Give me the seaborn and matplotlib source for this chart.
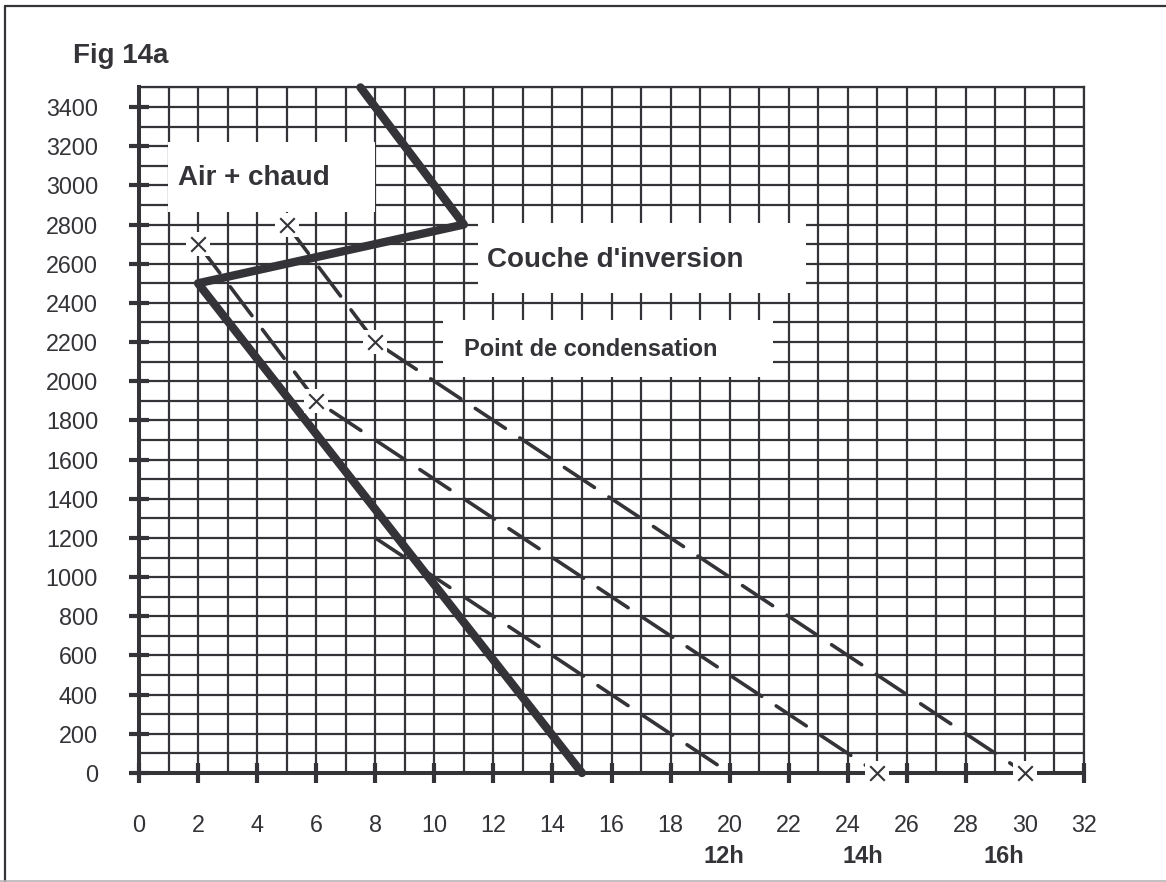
import numpy as np
import pandas as pd
import matplotlib.pyplot as plt
import seaborn as sns
from matplotlib.ticker import MultipleLocator
from matplotlib.patches import Rectangle
from matplotlib.lines import Line2D

# temperature profile (thick line)
env_temp = [7.5, 11, 2, 15]
env_alt = [3500, 2800, 2500, 0]

# rising parcels (dashed lines)
parcel_a_temp = [2, 6, 25]
parcel_a_alt = [2700, 1900, 0]
parcel_b_temp = [5, 8, 30]
parcel_b_alt = [2800, 2200, 0]
parcel_c_temp = [8, 20]
parcel_c_alt = [1200, 0]

# points marked with a cross
cross_temp = [2, 5, 6, 8, 25, 30]
cross_alt = [2700, 2800, 1900, 2200, 0, 0]

x_ticks = list(range(0, 33, 2))
y_ticks = list(range(0, 3401, 200))
hour_labels = ['12h', '14h', '16h']
hour_pos = [19.8, 24.5, 29.3]

ink = '#333338'

sns.set_style('white')
plt.rcParams['font.family'] = ['Liberation Sans', 'DejaVu Sans']

fig = plt.figure(figsize=(11.66, 8.82), dpi=100)
ax = fig.add_axes([0.1192, 0.1236, 0.8105, 0.7773])
ax.set_axisbelow(True)

# thick profile
env = pd.DataFrame({'temp': env_temp, 'alt': env_alt})
sns.lineplot(data=env, x='temp', y='alt', sort=False, estimator=None, color=ink,
             lw=6.0, solid_capstyle='round', solid_joinstyle='round',
             zorder=3, clip_on=False, ax=ax)

# dashed parcels
for t, a in [(parcel_a_temp, parcel_a_alt), (parcel_b_temp, parcel_b_alt),
             (parcel_c_temp, parcel_c_alt)]:
    df = pd.DataFrame({'temp': t, 'alt': a})
    sns.lineplot(data=df, x='temp', y='alt', sort=False, estimator=None, color=ink,
                 lw=2.6, linestyle=(0, (10, 4.8)), dash_capstyle='round',
                 zorder=3, ax=ax)

# crosses with a white halo
crosses = pd.DataFrame({'temp': cross_temp, 'alt': cross_alt})
sns.scatterplot(data=crosses, x='temp', y='alt', marker='s', s=300, color='white',
                linewidth=0, zorder=4, clip_on=False, ax=ax)
sns.scatterplot(data=crosses, x='temp', y='alt', marker='x', s=110, color=ink,
                linewidth=1.5, zorder=5, clip_on=False, ax=ax)

ax.set_xlim(0, 32)
ax.set_ylim(0, 3500)
ax.set_xticks(x_ticks)
ax.set_yticks(y_ticks)
ax.xaxis.set_minor_locator(MultipleLocator(1))
ax.yaxis.set_minor_locator(MultipleLocator(100))
ax.grid(which='both', color=ink, lw=1.6)
ax.tick_params(which='major', bottom=True, left=True, direction='inout', length=15,
               width=3, color=ink, labelcolor=ink, labelsize=16.8, pad=22)
ax.tick_params(which='minor', length=0)
ax.set_xlabel('')
ax.set_ylabel('')

for side in ['left', 'bottom']:
    ax.spines[side].set_linewidth(2.9)
    ax.spines[side].set_color(ink)
for side in ['top', 'right']:
    ax.spines[side].set_linewidth(1.6)
    ax.spines[side].set_color(ink)

# white label boxes over the grid
boxes = [(0.97, 2865, 7.03, 357), (11.48, 2450, 11.12, 358), (10.3, 2021, 11.17, 291)]
for x0, y0, w, h in boxes:
    ax.add_patch(Rectangle((x0, y0), w, h, facecolor='white', edgecolor='none', zorder=1))

ax.text(1.32, 3000, 'Air + chaud', fontsize=20, fontweight='bold', color=ink,
        ha='left', va='baseline', zorder=2)
ax.text(11.78, 2583, "Couche d'inversion", fontsize=20, fontweight='bold', color=ink,
        ha='left', va='baseline', zorder=2)
ax.text(11.0, 2129, 'Point de condensation', fontsize=17, fontweight='bold', color=ink,
        ha='left', va='baseline', zorder=2)

for lab, pos in zip(hour_labels, hour_pos):
    ax.text(pos, -459, lab, fontsize=17, fontweight='bold', color=ink,
            ha='center', va='baseline', clip_on=False)

fig.text(73 / 1166, 1 - 63 / 882, 'Fig 14a', fontsize=20, fontweight='bold', color=ink,
         ha='left', va='baseline')

# outer frame
fx = 4.5 / 1166
fy = 1 - 5.5 / 882
fig.add_artist(Line2D([fx, 1], [fy, fy], transform=fig.transFigure, color=ink, lw=1.6))
fig.add_artist(Line2D([fx, fx], [0, fy], transform=fig.transFigure, color=ink, lw=1.6))
fig.add_artist(Line2D([0, 1], [0.8 / 882, 0.8 / 882], transform=fig.transFigure,
                      color='#b5b5b5', lw=1.2))

fig.savefig('out.png', dpi=100)
